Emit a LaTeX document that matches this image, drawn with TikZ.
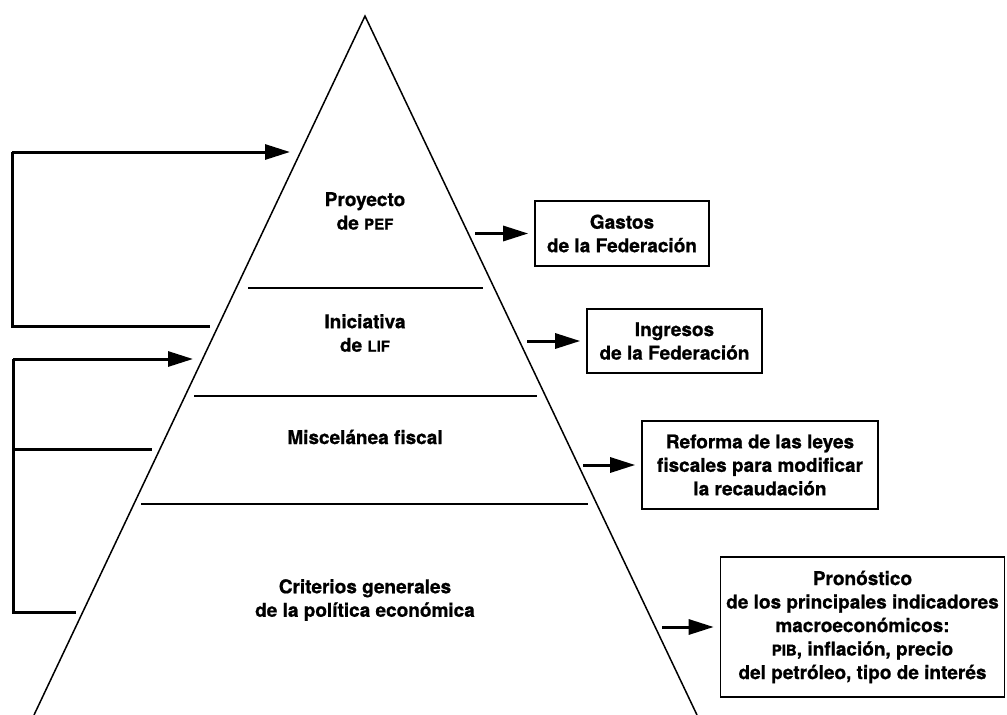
\documentclass[tikz,border=0pt]{standalone}
\usepackage{fontspec}
\setmainfont{TeX Gyre Heros}[BoldFeatures={FakeBold=0.8}]
\usetikzlibrary{arrows.meta}
\tikzset{
  caja/.style={draw,line width=1.6pt,align=center,inner sep=0pt},
  flecha/.style={line width=3pt,-{Triangle[length=25pt,width=15pt]}},
  llave/.style={line width=3pt},
  piso/.style={line width=1.5pt},
}
\newcommand{\sigla}[1]{{\fontsize{15}{23.5}\selectfont #1}}
\begin{document}
\begin{tikzpicture}[x=1pt,y=-1pt,font=\fontsize{19}{23.5}\selectfont\bfseries]
\useasboundingbox (0,0) rectangle (1007,715);
% piramide
\coordinate (apex) at (365,16);
\coordinate (bl) at (34,715);
\coordinate (br) at (697,715);
\draw[piso,line join=miter] (bl)--(apex)--(br);
\foreach \y/\a/\b in {288/248/483,396/194/537,504/141/588}{\draw[piso] (\a,\y)--(\b,\y);}
\node (pef) at (365,211) [align=center] {Proyecto\\de \sigla{PEF}};
\node (lif) at (365,333) [align=center] {Iniciativa\\de \sigla{LIF}};
\node (misc) at (365,437) {Miscelánea fiscal};
\node (crit) at (365,600) [align=center] {Criterios generales\\de la política económica};
% cajas de la derecha
\node[caja,minimum width=174pt,minimum height=65pt] (gastos) at (622,233.5) {Gastos\\de la Federación};
\node[caja,minimum width=175pt,minimum height=64pt] (ingresos) at (674.5,341) {Ingresos\\de la Federación};
\node[caja,minimum width=236pt,minimum height=88pt] (reforma) at (760,465) {Reforma de las leyes\\fiscales para modificar\\la recaudación};
\node[caja,minimum width=284pt,minimum height=140pt] (pron) at (862.5,627) {Pronóstico\\de los principales indicadores\\macroeconómicos:\\\sigla{PIB}, inflación, precio\\del petróleo, tipo de interés};
\coordinate (s1) at (475,233.5);
\coordinate (s2) at (527,341);
\coordinate (s3) at (583,465);
\coordinate (s4) at (662,627);
\foreach \s/\c in {s1/gastos,s2/ingresos,s3/reforma,s4/pron}{\draw[flecha,shorten >=6pt] (\s)--(\c.west);}
% llaves de la izquierda
\coordinate (k1a) at (210,326);
\coordinate (k1b) at (290,152);
\draw[llave] (k1a)--(12,326)--(12,152);
\draw[flecha] (12,152)--(k1b);
\coordinate (k2a) at (76,612);
\coordinate (k2m) at (152,449);
\coordinate (k2b) at (193,359);
\draw[llave] (k2a)--(13,612)--(13,359);
\draw[llave] (13,449)--(k2m);
\draw[flecha] (13,359)--(k2b);
\end{tikzpicture}
\end{document}
